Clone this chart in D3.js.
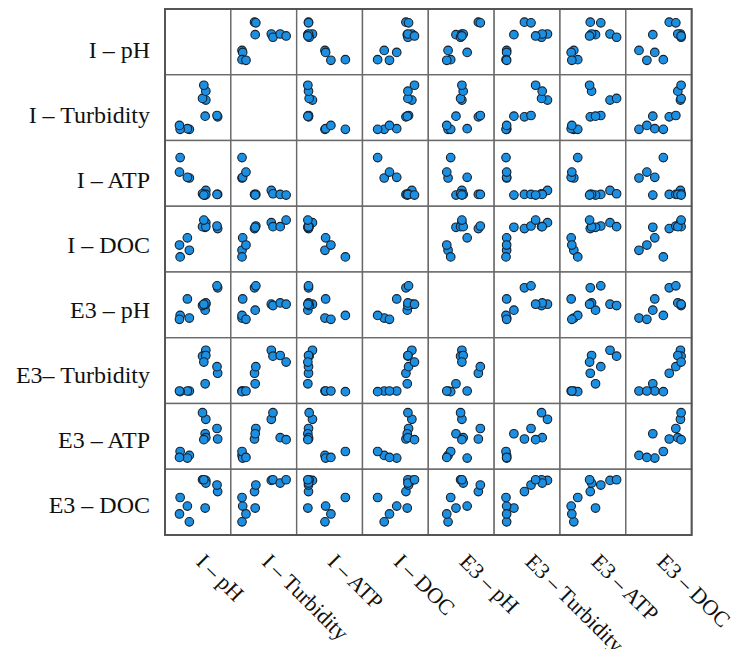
<!DOCTYPE html>
<html>
<head>
<meta charset="utf-8">
<script src="https://cdn.jsdelivr.net/npm/d3@7"></script>
<style>
  html, body { margin: 0; padding: 0; background: #ffffff; }
  svg { display: block; }
</style>
</head>
<body>
<svg id="chart" width="736" height="649"></svg>
<script>
// ---- data (normalised position of each of 11 samples, per variable) ----
const variables = ["I – pH", "I – Turbidity", "I – ATP", "I – DOC", "E3 – pH", "E3 – Turbidity", "E3 – ATP", "E3 – DOC"];
const rowLabels = ["I – pH", "I – Turbidity", "I – ATP", "I – DOC", "E3 – pH", "E3– Turbidity", "E3 – ATP", "E3 – DOC"];
const colLabels = ["I – pH", "I – Turbidity", "I – ATP", "I – DOC", "E3 – pH", "E3 – Turbidity", "E3 – ATP", "E3 – DOC"];

const iPH         = [0.80, 0.79, 0.61, 0.62, 0.57, 0.62, 0.59, 0.37, 0.34, 0.23, 0.22];
const iTurbidity  = [0.36, 0.38, 0.37, 0.615, 0.64, 0.75, 0.84, 0.17, 0.18, 0.17, 0.23];
const iATP        = [0.18, 0.18, 0.17, 0.24, 0.19, 0.18, 0.17, 0.43, 0.44, 0.74, 0.52];
const iDOC        = [0.66, 0.70, 0.68, 0.75, 0.69, 0.69, 0.79, 0.33, 0.52, 0.23, 0.41];
const e3PH        = [0.76, 0.79, 0.42, 0.51, 0.49, 0.53, 0.51, 0.30, 0.59, 0.34, 0.28];
const e3Turbidity = [0.46, 0.56, 0.30, 0.81, 0.72, 0.73, 0.63, 0.19, 0.19, 0.18, 0.19];
const e3ATP       = [0.46, 0.62, 0.54, 0.76, 0.86, 0.48, 0.45, 0.21, 0.17, 0.27, 0.18];
const e3DOC       = [0.66, 0.76, 0.41, 0.83, 0.84, 0.79, 0.84, 0.20, 0.44, 0.57, 0.32];

const series = [iPH, iTurbidity, iATP, iDOC, e3PH, e3Turbidity, e3ATP, e3DOC];
const nSamples = iPH.length;
const samples = d3.range(nSamples);

// ---- layout ----
const svg = d3.select("#chart");
const gridLeft = 165, gridTop = 9;
const cellW = 65.83, cellH = 65.75;
const n = variables.length;

const colScale = d3.scaleBand().domain(d3.range(n)).range([gridLeft, gridLeft + n * cellW]).padding(0);
const rowScale = d3.scaleBand().domain(d3.range(n)).range([gridTop, gridTop + n * cellH]).padding(0);
const xIn = d3.scaleLinear().domain([0, 1]).range([0, cellW]);
const yIn = d3.scaleLinear().domain([0, 1]).range([cellH, 0]);

// cells
const cells = [];
for (let r = 0; r < n; r++) for (let c = 0; c < n; c++) cells.push({r, c});

const cellG = svg.append("g").selectAll("g.cell")
  .data(cells).join("g")
  .attr("class", "cell")
  .attr("transform", d => `translate(${colScale(d.c)},${rowScale(d.r)})`);

cellG.append("rect")
  .attr("width", cellW).attr("height", cellH)
  .attr("fill", "#ffffff")
  .attr("stroke", "#6a6a6a").attr("stroke-width", 1.4);

cellG.filter(d => d.r !== d.c).each(function(d) {
  const xs = series[d.c], ys = series[d.r];
  d3.select(this).selectAll("circle")
    .data(samples).join("circle")
    .attr("cx", i => xIn(xs[i]))
    .attr("cy", i => yIn(ys[i]))
    .attr("r", 4.3)
    .attr("fill", "#1b8fe2")
    .attr("stroke", "#17202c")
    .attr("stroke-width", 1.1);
});

// outer border
svg.append("rect")
  .attr("x", gridLeft).attr("y", gridTop)
  .attr("width", n * cellW).attr("height", n * cellH)
  .attr("fill", "none").attr("stroke", "#555555").attr("stroke-width", 2);

// row labels
svg.append("g").selectAll("text")
  .data(rowLabels).join("text")
  .attr("x", 150)
  .attr("y", (d, i) => rowScale(i) + cellH / 2 + 16 - 0.8 * i)
  .attr("text-anchor", "end")
  .attr("font-family", "'Liberation Serif', 'Times New Roman', serif")
  .attr("font-size", 24)
  .attr("fill", "#111")
  .text(d => d);

// column labels (rotated)
svg.append("g").selectAll("text")
  .data(colLabels).join("text")
  .attr("transform", (d, i) => `translate(${colScale(i) + cellW / 2 - 3},${gridTop + n * cellH + 28}) rotate(45)`)
  .attr("text-anchor", "start")
  .attr("font-family", "'Liberation Serif', 'Times New Roman', serif")
  .attr("font-size", 22)
  .attr("fill", "#111")
  .text(d => d);
</script>
</body>
</html>
